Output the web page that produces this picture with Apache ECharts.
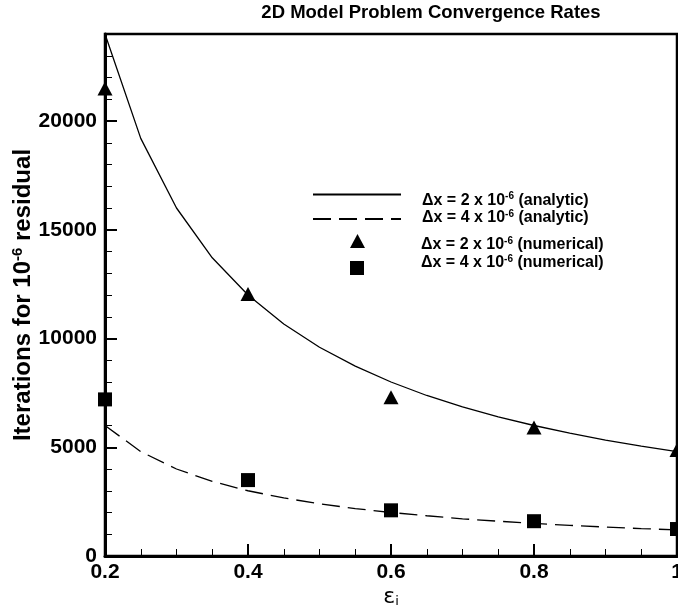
<!DOCTYPE html>
<html>
<head>
<meta charset="utf-8">
<script src="https://cdn.jsdelivr.net/npm/echarts@6/dist/echarts.min.js"></script>
<style>html,body{margin:0;padding:0;background:#fff}#c{width:678px;height:609px}</style>
</head>
<body>
<div id="c"></div>
<script>
const epsAnalytic = [0.2, 0.25, 0.3, 0.35, 0.4, 0.45, 0.5, 0.55, 0.6, 0.65, 0.7, 0.75, 0.8, 0.85, 0.9, 0.95, 1.0];
const itersAnalyticDx2 = [24000, 19200, 16000, 13710, 12000, 10670, 9600, 8730, 8000, 7380, 6860, 6400, 6000, 5650, 5330, 5050, 4800];
const itersAnalyticDx4 = [6000, 4800, 4000, 3430, 3000, 2670, 2400, 2180, 2000, 1850, 1710, 1600, 1500, 1410, 1330, 1260, 1200];
const epsNumerical = [0.2, 0.4, 0.6, 0.8, 1.0];
const itersNumericalDx2 = [21500, 12050, 7300, 5910, 4870];
const itersNumericalDx4 = [7200, 3490, 2100, 1600, 1240];
const xTicks = [0.2, 0.4, 0.6, 0.8, 1];
const yTicks = [0, 5000, 10000, 15000, 20000];

const names = ['dx2 analytic', 'dx4 analytic', 'dx2 numerical', 'dx4 numerical'];
const legendTexts = [['2', 'analytic'], ['4', 'analytic'], ['2', 'numerical'], ['4', 'numerical']];

const pairs = (xs, ys) => xs.map((x, i) => [x, ys[i]]);
const FONT = 'Liberation Sans';
const legendRich = {
  b: { fontFamily: FONT, fontWeight: 'bold', fontSize: 16, color: '#000', lineHeight: 18 },
  sup: { fontFamily: FONT, fontWeight: 'bold', fontSize: 10, color: '#000', verticalAlign: 'top', lineHeight: 18 }
};
function legendFmt(i) {
  const t = legendTexts[i];
  return '{b|\u0394x = ' + t[0] + ' x 10}{sup|-6}{b| (' + t[1] + ')}';
}
function makeLegend(i, left, top, w, h, pad, hideSymbol) {
  const l = {
    data: [names[i]], left: left, top: top, orient: 'horizontal',
    itemWidth: w, itemHeight: h, padding: 0, selectedMode: false,
    formatter: () => legendFmt(i),
    textStyle: { rich: legendRich, padding: pad }
  };
  if (hideSymbol) l.itemStyle = { opacity: 0 };
  return l;
}

const chart = echarts.init(document.getElementById('c'), null, { renderer: 'canvas' });
chart.setOption({
  animation: false,
  backgroundColor: '#fff',
  title: {
    text: '2D Model Problem Convergence Rates',
    left: 426, top: -2, textAlign: 'center',
    textStyle: { fontFamily: FONT, fontWeight: 'bold', fontSize: 18.5, color: '#000' }
  },
  legend: [
    makeLegend(0, 312, 189, 88, 14, [12, 0, 0, 16], true),
    makeLegend(1, 312, 209, 88, 14, [0, 0, 2, 16], true),
    makeLegend(2, 350, 234, 15, 14, [8, 0, 0, 51], false),
    makeLegend(3, 350, 254, 14, 14, [0, 0, 10, 52], false)
  ],
  grid: {
    left: 105, top: 34, right: 1, bottom: 53,
    show: true, borderColor: '#000', borderWidth: 2.5,
    containLabel: false, outerBoundsMode: 'none'
  },
  xAxis: {
    type: 'value', min: 0.2, max: 1, interval: 0.2,
    name: '{e|\u03b5}{s|i}', nameLocation: 'middle', nameGap: 30, nameMoveOverlap: false,
    nameTextStyle: {
      rich: {
        e: { fontFamily: 'DejaVu Sans', fontSize: 22, color: '#000', lineHeight: 22, verticalAlign: 'top', padding: [0, 0, 4, 0] },
        s: { fontFamily: 'DejaVu Sans', fontSize: 13, color: '#000', lineHeight: 15, verticalAlign: 'bottom' }
      }
    },
    axisLine: { show: true, onZero: false, lineStyle: { color: '#000', width: 3 } },
    axisTick: { show: true, inside: true, length: 12, lineStyle: { color: '#000', width: 2 } },
    minorTick: { show: true, splitNumber: 4, length: 7, lineStyle: { color: '#000', width: 1 } },
    splitLine: { show: false },
    axisLabel: {
      margin: 6, fontFamily: FONT, fontWeight: 'bold', fontSize: 21, color: '#000',
      formatter: v => (xTicks.some(t => Math.abs(t - v) < 1e-9) ? String(+v.toFixed(1)) : '')
    }
  },
  yAxis: [
    {
      type: 'value', min: 0, max: 24000, interval: 5000, position: 'left',
      name: '{b|Iterations for 10}{sup|-6}{b| residual}',
      nameLocation: 'middle', nameGap: 68, nameRotate: 90, nameMoveOverlap: false,
      nameTextStyle: {
        rich: {
          b: { fontFamily: FONT, fontWeight: 'bold', fontSize: 24, color: '#000', lineHeight: 27 },
          sup: { fontFamily: FONT, fontWeight: 'bold', fontSize: 15, color: '#000', verticalAlign: 'top', lineHeight: 27 }
        }
      },
      axisLine: { show: true, onZero: false, lineStyle: { color: '#000', width: 3 } },
      axisTick: { show: true, inside: true, length: 12, lineStyle: { color: '#000', width: 2 } },
      splitLine: { show: false },
      axisLabel: {
        margin: 8, fontFamily: FONT, fontWeight: 'bold', fontSize: 21, color: '#000',
        formatter: v => (yTicks.indexOf(v) >= 0 ? String(v) : '')
      }
    },
    {
      type: 'value', min: 0, max: 24000, interval: 1000, position: 'left', offset: 0,
      axisLine: { show: false },
      axisTick: { show: true, inside: true, length: 7, lineStyle: { color: '#000', width: 1 } },
      splitLine: { show: false },
      axisLabel: { show: false }
    }
  ],
  series: [
    {
      name: names[0], type: 'line', data: pairs(epsAnalytic, itersAnalyticDx2),
      symbol: 'none', lineStyle: { color: '#000', width: 1.3 }, itemStyle: { color: '#000' }, z: 3
    },
    {
      name: names[1], type: 'line', data: pairs(epsAnalytic, itersAnalyticDx4),
      symbol: 'none', lineStyle: { color: '#000', width: 1.3, type: [18, 8] }, itemStyle: { color: '#000' }, z: 3
    },
    {
      name: names[2], type: 'scatter', data: pairs(epsNumerical, itersNumericalDx2),
      symbol: 'triangle', symbolSize: [15, 14], itemStyle: { color: '#000', opacity: 1 }, z: 4
    },
    {
      name: names[3], type: 'scatter', data: pairs(epsNumerical, itersNumericalDx4),
      symbol: 'rect', symbolSize: 14, itemStyle: { color: '#000', opacity: 1 }, z: 4
    }
  ]
});
</script>
</body>
</html>
